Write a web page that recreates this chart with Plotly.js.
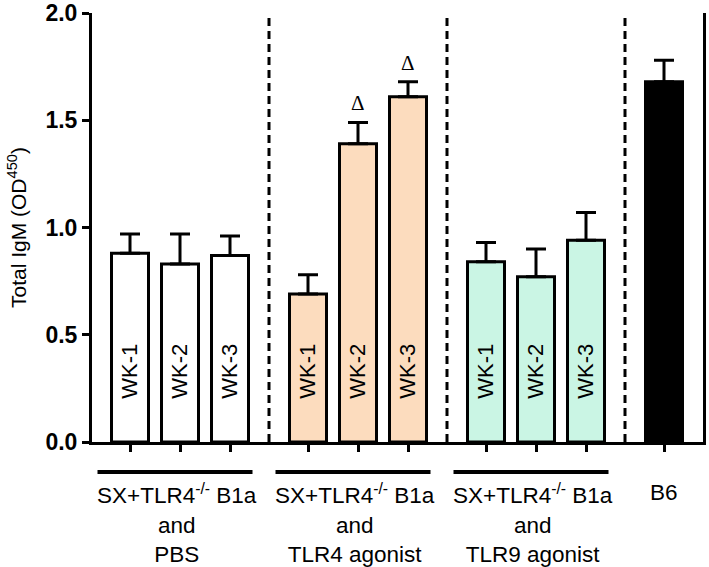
<!DOCTYPE html>
<html>
<head>
<meta charset="utf-8">
<script src="https://cdn.plot.ly/plotly-3.0.1.min.js"></script>
<style>html,body{margin:0;padding:0;background:#fff;}#chart{width:709px;height:567px;}</style>
</head>
<body>
<div id="chart"></div>
<script>
// ---- data ----
const barLabels = ['WK-1','WK-2','WK-3','WK-1','WK-2','WK-3','WK-1','WK-2','WK-3',''];
const groupIndex = [0,0,0,1,1,1,2,2,2,3];
const indexInGroup = [0,1,2,0,1,2,0,1,2,0];
const means = [0.88,0.83,0.87, 0.69,1.39,1.61, 0.84,0.77,0.94, 1.68];
const errors = [0.09,0.14,0.09, 0.09,0.10,0.07, 0.09,0.13,0.13, 0.10];
const significant = [false,false,false,false,true,true,false,false,false,false];
const groupLabels = ['SX+TLR4<sup>-/-</sup> B1a<br>and<br>PBS',
                     'SX+TLR4<sup>-/-</sup> B1a<br>and<br>TLR4 agonist',
                     'SX+TLR4<sup>-/-</sup> B1a<br>and<br>TLR9 agonist',
                     'B6'];
const groupColors = ['#ffffff','#fcdcbe','#caf5e4','#000000'];
const yTicks = [0,0.5,1.0,1.5,2.0];

// ---- layout helpers ----
const groupStep = 3.56;
const xs = groupIndex.map((g,i)=> g*groupStep + indexInGroup[i]);
const colors = groupIndex.map(g=>groupColors[g]);
const FONT = 'Liberation Sans, Arial, sans-serif';

const trace = {
  type:'bar', x: xs, y: means, width: 0.74,
  marker:{color: colors, line:{color:'#000', width:3}},
  error_y:{type:'data', symmetric:false, array: errors, arrayminus: errors.map(()=>0),
           color:'#000', thickness:3, width:10},
  hoverinfo:'none'
};

const shapes = [];
const annotations = [];
const nGroups = groupLabels.length;
for (let g=0; g<nGroups; g++){
  const gx = xs.filter((x,i)=>groupIndex[i]===g);
  const first = Math.min(...gx), last = Math.max(...gx);
  const center = (first+last)/2;
  if (g < nGroups-1){
    const nextFirst = Math.min(...xs.filter((x,i)=>groupIndex[i]===g+1));
    shapes.push({type:'line', xref:'x', yref:'y', x0:(last+nextFirst)/2, x1:(last+nextFirst)/2, y0:0, y1:2,
                 line:{color:'#000', width:3, dash:'8px,5px'}, layer:'below'});
  }
  if (gx.length > 1){
    shapes.push({type:'line', xref:'x', yref:'paper', x0:first-0.65, x1:last+0.45, y0:-0.07, y1:-0.07,
                 line:{color:'#000', width:4}});
  }
  annotations.push({xref:'x', yref:'paper', x:center, y:-0.085, yanchor:'top', xanchor:'center',
                    xshift: gx.length > 1 ? -3 : 0,
                    text: groupLabels[g], showarrow:false, align:'center',
                    font:{family:FONT, size:22.5, color:'#000'}});
}
barLabels.forEach((t,i)=>{
  if (!t) return;
  annotations.push({xref:'x', yref:'y', x:xs[i], y:0.19, yanchor:'bottom', xanchor:'center',
                    text:t, textangle:-90, showarrow:false,
                    font:{family:FONT, size:22, color:'#000'}});
});
significant.forEach((s,i)=>{
  if (!s) return;
  annotations.push({xref:'x', yref:'y', x:xs[i], y:means[i]+errors[i], yanchor:'bottom', xanchor:'center',
                    yshift:5, text:'Δ', showarrow:false,
                    font:{family:'Liberation Serif, Times New Roman, serif', size:21, color:'#000'}});
});

const layout = {
  width:709, height:567,
  margin:{l:92, r:6, t:13, b:125},
  paper_bgcolor:'#fff', plot_bgcolor:'#fff',
  showlegend:false,
  bargap:0,
  xaxis:{range:[-0.76, 11.46], tickvals: xs, showticklabels:false, ticks:'outside', ticklen:7, tickwidth:3,
         tickcolor:'#000', showline:true, linecolor:'#000', linewidth:3, showgrid:false, zeroline:false, fixedrange:true},
  yaxis:{range:[0,2], tickvals:yTicks, ticktext: yTicks.map(v=>v.toFixed(1)), ticks:'outside', ticklen:7, tickwidth:3,
         tickcolor:'#000', showline:true, mirror:true, linecolor:'#000', linewidth:3, showgrid:false, zeroline:false,
         tickfont:{family:FONT, size:23, weight:'bold', color:'#000'},
         title:{text:'Total IgM (OD<sup>450</sup>)', font:{family:FONT, size:21, color:'#000'}, standoff:14}},
  shapes: shapes,
  annotations: annotations,
  font:{family:FONT, color:'#000'}
};

Plotly.newPlot('chart', [trace], layout, {displayModeBar:false, staticPlot:true});
</script>
</body>
</html>
